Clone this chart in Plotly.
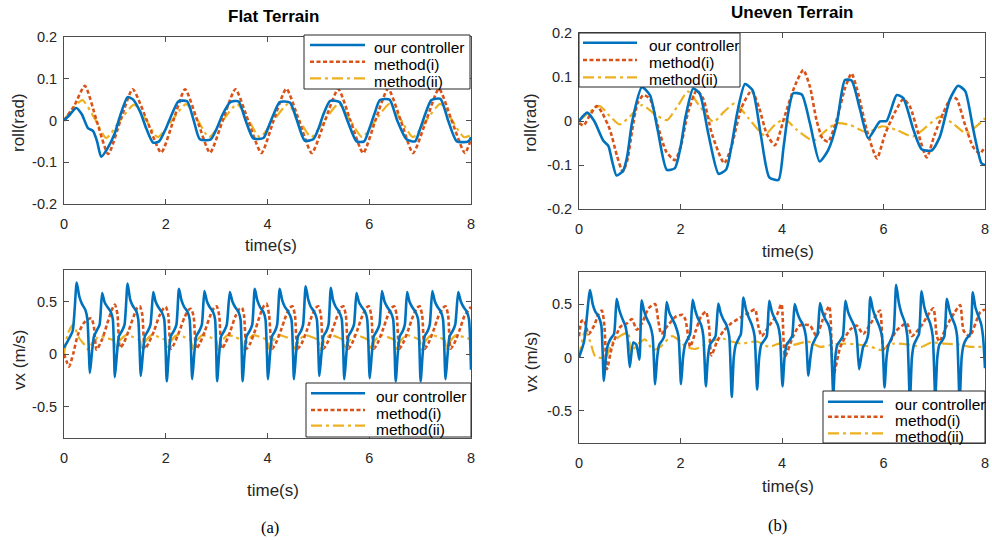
import plotly.graph_objects as go

# ---------------- data ----------------
SERIES_NAMES = ["our controller", "method(i)", "method(ii)"]
TIME_TICKS = [0, 2, 4, 6, 8]
TIME_TICK_TEXT = ["0", "2", "4", "6", "8"]
ROLL_TICKS = [-0.2, -0.1, 0, 0.1, 0.2]
ROLL_TICK_TEXT = ["-0.2", "-0.1", "0", "0.1", "0.2"]
VX_TICKS = [-0.5, 0, 0.5]
VX_TICK_TEXT = ["-0.5", "0", "0.5"]

# Flat terrain, roll
ROLL_FLAT_OURS_T = [0, 0.1, 0.24, 0.35, 0.47, 0.57, 0.65, 0.73, 0.85, 1.0, 1.1, 1.25, 1.36, 1.5, 1.62, 1.75,
                    1.87, 2.0, 2.12, 2.25, 2.42, 2.55, 2.67, 2.88, 3.0, 3.12, 3.27, 3.43, 3.57, 3.72, 3.92,
                    4.02, 4.12, 4.24, 4.44, 4.58, 4.73, 4.9, 5.0, 5.1, 5.23, 5.42, 5.57, 5.75, 5.9, 6.0,
                    6.1, 6.21, 6.4, 6.55, 6.73, 6.9, 7.0, 7.1, 7.22, 7.4, 7.55, 7.72, 7.95, 8.0]
ROLL_FLAT_OURS = [0, 0.012, 0.03, 0.015, -0.018, -0.025, -0.05, -0.087, -0.068, -0.03, 0.01, 0.056, 0.05,
                  0.02, -0.02, -0.053, -0.05, -0.02, 0.015, 0.046, 0.046, 0.0, -0.045, -0.046, -0.02, 0.015,
                  0.044, 0.046, 0.0, -0.043, -0.042, -0.015, 0.015, 0.044, 0.043, 0.0, -0.048, -0.045,
                  -0.02, 0.015, 0.047, 0.044, 0.0, -0.05, -0.05, -0.02, 0.015, 0.049, 0.05, 0.0, -0.045,
                  -0.05, -0.02, 0.015, 0.049, 0.052, 0.0, -0.05, -0.05, -0.04]
ROLL_FLAT_M1_T = [0, 0.2, 0.41, 0.64, 0.87, 1.11, 1.35, 1.63, 1.91, 2.15, 2.38, 2.62, 2.87, 3.12, 3.37, 3.62,
                  3.88, 4.12, 4.37, 4.62, 4.87, 5.13, 5.39, 5.63, 5.88, 6.12, 6.37, 6.62, 6.86, 7.12, 7.37,
                  7.62, 7.88, 8.0]
ROLL_FLAT_M1 = [0, 0.035, 0.083, 0.0, -0.08, 0.0, 0.075, 0.0, -0.077, 0.0, 0.075, 0.0, -0.077, 0.0, 0.075,
                0.0, -0.078, 0.0, 0.076, 0.0, -0.078, 0.0, 0.075, 0.0, -0.078, 0.0, 0.076, 0.0, -0.078,
                0.0, 0.076, 0.0, -0.078, -0.045]
ROLL_FLAT_M2_T = [0, 0.15, 0.36, 0.6, 0.83, 1.1, 1.38, 1.62, 1.84, 2.12, 2.4, 2.63, 2.85, 3.12, 3.4, 3.63,
                  3.85, 4.12, 4.4, 4.63, 4.86, 5.12, 5.4, 5.63, 5.86, 6.12, 6.4, 6.63, 6.86, 7.12, 7.4,
                  7.63, 7.86, 8.0]
ROLL_FLAT_M2 = [0, 0.025, 0.049, 0.005, -0.042, 0.0, 0.038, 0.0, -0.04, 0.0, 0.039, 0.0, -0.04, 0.0, 0.039,
                0.0, -0.04, 0.0, 0.039, 0.0, -0.04, 0.0, 0.04, 0.0, -0.04, 0.0, 0.04, 0.0, -0.04, 0.0,
                0.04, 0.0, -0.04, -0.035]

# Uneven terrain, roll
ROLL_UNEVEN_OURS_T = [0, 0.16, 0.3, 0.48, 0.58, 0.65, 0.74, 0.87, 0.95, 1.05, 1.24, 1.4, 1.55, 1.73, 1.89,
                      2.0, 2.1, 2.25, 2.38, 2.55, 2.75, 2.9, 3.0, 3.12, 3.27, 3.42, 3.58, 3.75, 3.93, 4.03,
                      4.12, 4.22, 4.39, 4.55, 4.74, 4.91, 5.08, 5.24, 5.37, 5.54, 5.7, 5.93, 6.06, 6.26,
                      6.39, 6.59, 6.75, 6.95, 7.11, 7.31, 7.47, 7.61, 7.77, 7.93, 8.0]
ROLL_UNEVEN_OURS = [0, 0.019, 0.0, -0.045, -0.057, -0.09, -0.124, -0.113, -0.08, 0.0, 0.077, 0.058, -0.02,
                    -0.111, -0.107, -0.06, 0.01, 0.074, 0.062, -0.03, -0.12, -0.11, -0.06, 0.02, 0.084,
                    0.07, -0.03, -0.128, -0.134, -0.06, 0.017, 0.063, 0.06, -0.005, -0.092, -0.066,
                    -0.005, 0.093, 0.092, 0.025, -0.039, -0.001, 0.0, 0.059, 0.052, -0.02, -0.064, -0.067,
                    -0.036, 0.05, 0.08, 0.068, -0.02, -0.096, -0.1]
ROLL_UNEVEN_M1_T = [0, 0.09, 0.2, 0.35, 0.45, 0.61, 0.75, 0.86, 0.95, 1.05, 1.15, 1.27, 1.4, 1.55, 1.72,
                    1.89, 2.0, 2.15, 2.32, 2.45, 2.62, 2.86, 3.0, 3.2, 3.4, 3.55, 3.7, 3.86, 4.06, 4.26,
                    4.42, 4.55, 4.68, 4.8, 4.91, 5.08, 5.24, 5.37, 5.5, 5.67, 5.87, 6.03, 6.23, 6.39, 6.52,
                    6.69, 6.85, 7.01, 7.18, 7.34, 7.44, 7.61, 7.77, 7.9, 8.0]
ROLL_UNEVEN_M1 = [-0.005, -0.01, 0.01, 0.034, 0.02, -0.02, -0.08, -0.115, -0.09, -0.02, 0.04, 0.059, 0.05,
                  -0.01, -0.07, -0.089, -0.06, 0.02, 0.07, 0.05, -0.03, -0.096, -0.06, 0.03, 0.069, 0.03,
                  -0.03, -0.055, 0.014, 0.082, 0.116, 0.078, 0.002, -0.04, -0.047, 0.004, 0.074, 0.108,
                  0.063, -0.02, -0.085, -0.03, 0.021, 0.05, 0.033, -0.03, -0.083, -0.03, 0.019, 0.054,
                  0.05, -0.01, -0.06, -0.074, -0.058]
ROLL_UNEVEN_M2_T = [0, 0.2, 0.41, 0.6, 0.8, 1.0, 1.24, 1.5, 1.73, 1.95, 2.15, 2.4, 2.65, 2.85, 3.07, 3.35,
                    3.65, 3.85, 4.05, 4.29, 4.62, 4.88, 5.08, 5.34, 5.68, 5.97, 6.25, 6.58, 6.85, 7.11,
                    7.35, 7.63, 7.85, 8.0]
ROLL_UNEVEN_M2 = [0, 0.02, 0.034, 0.012, -0.008, 0.01, 0.036, 0.015, 0.002, 0.035, 0.067, 0.03, -0.002,
                  0.02, 0.04, 0.005, -0.032, -0.01, 0.005, -0.02, -0.045, -0.02, -0.005, -0.009, -0.026,
                  -0.012, -0.02, -0.035, -0.013, 0.01, -0.004, -0.028, -0.01, 0.006]

# Flat terrain, vx
VX_FLAT_OURS_T = [0.0, 0.07, 0.17, 0.25, 0.30, 0.35, 0.42, 0.46, 0.51,
                  0.55, 0.59, 0.65, 0.70, 0.75, 0.80, 0.85, 0.92, 0.96, 1.00,
                  1.04, 1.08, 1.14, 1.19, 1.25, 1.30, 1.35, 1.42, 1.46, 1.51,
                  1.55, 1.59, 1.65, 1.70, 1.755, 1.80, 1.85, 1.92, 1.97, 2.02,
                  2.06, 2.10, 2.16, 2.21, 2.26, 2.31, 2.36, 2.43, 2.47, 2.52,
                  2.56, 2.60, 2.66, 2.71, 2.76, 2.81, 2.86, 2.93, 2.97, 3.01,
                  3.05, 3.09, 3.15, 3.20, 3.26, 3.31, 3.36, 3.43, 3.47, 3.51,
                  3.55, 3.59, 3.65, 3.70, 3.75, 3.80, 3.85, 3.92, 3.96, 4.01,
                  4.05, 4.09, 4.15, 4.19, 4.24, 4.29, 4.34, 4.41, 4.47, 4.52,
                  4.56, 4.60, 4.66, 4.70, 4.75, 4.80, 4.85, 4.92, 4.97, 5.02,
                  5.06, 5.10, 5.16, 5.20, 5.245, 5.29, 5.34, 5.41, 5.46, 5.51,
                  5.55, 5.59, 5.65, 5.70, 5.75, 5.80, 5.85, 5.92, 5.96, 6.01,
                  6.05, 6.09, 6.15, 6.20, 6.25, 6.30, 6.35, 6.42, 6.47, 6.52,
                  6.56, 6.60, 6.66, 6.70, 6.745, 6.79, 6.84, 6.91, 6.96, 7.01,
                  7.05, 7.09, 7.15, 7.19, 7.24, 7.29, 7.34, 7.41, 7.45, 7.50,
                  7.54, 7.58, 7.64, 7.69, 7.75, 7.80, 7.85, 7.92, 7.96, 8.0]
VX_FLAT_OURS = [0.06, 0.12, 0.22, 0.68, 0.55, 0.48, 0.42, 0.33, -0.18,
                0.02, 0.17, 0.23, 0.28, 0.58, 0.49, 0.45, 0.40, 0.33, -0.22,
                0.0, 0.17, 0.22, 0.28, 0.67, 0.52, 0.46, 0.41, 0.33, -0.21,
                0.0, 0.17, 0.22, 0.28, 0.59, 0.50, 0.45, 0.40, 0.33, -0.26,
                0.0, 0.17, 0.22, 0.28, 0.62, 0.51, 0.45, 0.40, 0.33, -0.24,
                0.0, 0.17, 0.22, 0.28, 0.60, 0.50, 0.45, 0.40, 0.33, -0.26,
                0.0, 0.17, 0.22, 0.28, 0.59, 0.50, 0.45, 0.40, 0.33, -0.26,
                0.0, 0.17, 0.22, 0.28, 0.62, 0.51, 0.45, 0.40, 0.33, -0.24,
                0.0, 0.17, 0.22, 0.28, 0.62, 0.51, 0.45, 0.40, 0.33, -0.24,
                0.0, 0.17, 0.22, 0.28, 0.645, 0.52, 0.45, 0.40, 0.33, -0.21,
                0.0, 0.17, 0.22, 0.28, 0.63, 0.51, 0.45, 0.40, 0.33, -0.24,
                0.0, 0.17, 0.22, 0.28, 0.58, 0.49, 0.45, 0.40, 0.33, -0.23,
                0.0, 0.17, 0.22, 0.28, 0.60, 0.50, 0.45, 0.40, 0.33, -0.26,
                0.0, 0.17, 0.22, 0.28, 0.59, 0.50, 0.45, 0.40, 0.33, -0.26,
                0.0, 0.17, 0.22, 0.28, 0.60, 0.50, 0.45, 0.40, 0.33, -0.24,
                0.0, 0.17, 0.22, 0.28, 0.59, 0.50, 0.45, 0.40, 0.33, -0.15]
VX_FLAT_M1_T = [0.0, 0.05, 0.1, 0.18, 0.27, 0.38, 0.47, 0.54, 0.59, 0.64, 0.75, 0.85, 0.94, 1.0,
                1.05, 1.1, 1.17, 1.27, 1.37, 1.44, 1.49, 1.54, 1.59, 1.66, 1.77, 1.87, 1.95, 2.0,
                2.05, 2.1, 2.17, 2.27, 2.37, 2.45, 2.5, 2.55, 2.6, 2.67, 2.77, 2.87, 2.95, 3.0,
                3.05, 3.1, 3.17, 3.27, 3.37, 3.45, 3.5, 3.54, 3.59, 3.66, 3.76, 3.86, 3.93, 3.98,
                4.03, 4.09, 4.16, 4.26, 4.36, 4.44, 4.49, 4.54, 4.59, 4.67, 4.77, 4.87, 4.95, 5.0,
                5.05, 5.1, 5.17, 5.27, 5.37, 5.44, 5.49, 5.54, 5.59, 5.66, 5.76, 5.86, 5.94, 5.99,
                6.04, 6.09, 6.16, 6.26, 6.36, 6.44, 6.49, 6.54, 6.59, 6.66, 6.76, 6.86, 6.94, 6.99,
                7.04, 7.09, 7.16, 7.26, 7.36, 7.45, 7.5, 7.55, 7.6, 7.67, 7.77, 7.87, 8.0]
VX_FLAT_M1 = [0.0, -0.07, -0.12, 0.0, 0.18, 0.29, 0.33, 0.34, 0.25, 0.04, 0.14, 0.29, 0.42, 0.47,
              0.38, 0.06, 0.1, 0.22, 0.36, 0.44, 0.455, 0.37, 0.05, 0.1, 0.22, 0.36, 0.43, 0.45,
              0.37, 0.05, 0.1, 0.22, 0.35, 0.42, 0.43, 0.35, 0.05, 0.1, 0.22, 0.36, 0.44, 0.455,
              0.37, 0.05, 0.1, 0.22, 0.36, 0.43, 0.44, 0.36, 0.05, 0.1, 0.23, 0.38, 0.46, 0.48,
              0.38, 0.05, 0.1, 0.22, 0.36, 0.44, 0.455, 0.37, 0.05, 0.1, 0.22, 0.36, 0.44, 0.455,
              0.37, 0.05, 0.1, 0.22, 0.36, 0.44, 0.455, 0.37, 0.05, 0.1, 0.22, 0.36, 0.44, 0.455,
              0.37, 0.05, 0.1, 0.22, 0.36, 0.44, 0.455, 0.37, 0.05, 0.1, 0.22, 0.36, 0.44, 0.455,
              0.37, 0.05, 0.1, 0.22, 0.36, 0.44, 0.455, 0.37, 0.05, 0.1, 0.22, 0.36, 0.45]
VX_FLAT_M2_T = [0.0, 0.08, 0.18, 0.3, 0.4, 0.48, 0.55, 0.7, 0.85, 0.97, 1.02, 1.08, 1.22, 1.37, 1.49,
                1.53, 1.6, 1.72, 1.87, 1.99, 2.03, 2.1, 2.22, 2.37, 2.49, 2.53, 2.6, 2.72, 2.87, 2.99,
                3.03, 3.1, 3.22, 3.37, 3.49, 3.53, 3.6, 3.72, 3.87, 3.99, 4.03, 4.1, 4.22, 4.37, 4.5,
                4.54, 4.61, 4.73, 4.88, 5.0, 5.04, 5.11, 5.23, 5.38, 5.49, 5.53, 5.6, 5.72, 5.87,
                5.99, 6.03, 6.1, 6.22, 6.37, 6.5, 6.54, 6.61, 6.73, 6.88, 6.99, 7.03, 7.1, 7.22, 7.37,
                7.48, 7.52, 7.59, 7.71, 7.86, 8.0]
VX_FLAT_M2 = [0.0, 0.2, 0.28, 0.15, 0.09, 0.04, 0.1, 0.17, 0.15, 0.13, 0.05, 0.12, 0.18, 0.16, 0.13,
              0.03, 0.12, 0.18, 0.16, 0.13, 0.04, 0.12, 0.18, 0.16, 0.13, 0.04, 0.12, 0.18, 0.16, 0.13,
              0.04, 0.12, 0.18, 0.16, 0.13, 0.04, 0.12, 0.18, 0.16, 0.13, 0.05, 0.12, 0.18, 0.16, 0.13,
              0.05, 0.12, 0.18, 0.16, 0.13, 0.04, 0.12, 0.18, 0.16, 0.13, 0.04, 0.12, 0.18, 0.16,
              0.13, 0.04, 0.12, 0.18, 0.16, 0.13, 0.04, 0.12, 0.18, 0.16, 0.13, 0.04, 0.12, 0.18,
              0.16, 0.13, 0.04, 0.12, 0.18, 0.16, 0.14]

# Uneven terrain, vx
VX_UNEVEN_OURS_T = [0.0, 0.1, 0.217, 0.27, 0.32, 0.39, 0.44, 0.49,
                    0.53, 0.57, 0.63, 0.69, 0.742, 0.79, 0.84, 0.91, 0.95, 1.0,
                    1.07, 1.13, 1.19, 1.235, 1.28, 1.33, 1.4, 1.45, 1.5,
                    1.54, 1.58, 1.64, 1.68, 1.728, 1.78, 1.83, 1.9, 1.96, 2.01,
                    2.05, 2.09, 2.15, 2.19, 2.24, 2.29, 2.34, 2.41, 2.45, 2.5,
                    2.54, 2.58, 2.64, 2.69, 2.745, 2.79, 2.84, 2.91, 2.96, 3.01,
                    3.05, 3.09, 3.15, 3.19, 3.24, 3.29, 3.34, 3.41, 3.46, 3.51,
                    3.55, 3.59, 3.65, 3.7, 3.75, 3.8, 3.85, 3.92, 3.96, 4.01,
                    4.05, 4.09, 4.15, 4.2, 4.25, 4.3, 4.35, 4.42, 4.47, 4.52,
                    4.56, 4.6, 4.66, 4.7, 4.75, 4.8, 4.85, 4.92, 4.96, 5.01,
                    5.05, 5.09, 5.15, 5.2, 5.25, 5.3, 5.35, 5.42, 5.47, 5.52,
                    5.56, 5.6, 5.66, 5.7, 5.74, 5.79, 5.84, 5.91, 5.97, 6.02,
                    6.06, 6.1, 6.16, 6.2, 6.25, 6.3, 6.35, 6.42, 6.47, 6.52,
                    6.56, 6.6, 6.66, 6.7, 6.75, 6.8, 6.85, 6.92, 6.97, 7.02,
                    7.06, 7.1, 7.16, 7.2, 7.25, 7.3, 7.35, 7.41, 7.45, 7.5,
                    7.54, 7.58, 7.64, 7.71, 7.76, 7.81, 7.86, 7.92, 7.96, 8.0]
VX_UNEVEN_OURS = [0.0, 0.15, 0.63, 0.5, 0.43, 0.38, 0.3, -0.22,
                  0.0, 0.12, 0.18, 0.22, 0.55, 0.45, 0.38, 0.3, 0.2, -0.09,
                  0.14, 0.12, -0.02, 0.535, 0.44, 0.37, 0.3, 0.2, -0.25,
                  0.0, 0.12, 0.16, 0.2, 0.52, 0.42, 0.37, 0.3, 0.2, -0.25,
                  0.0, 0.12, 0.18, 0.22, 0.54, 0.44, 0.37, 0.3, 0.2, -0.27,
                  0.0, 0.12, 0.16, 0.2, 0.505, 0.42, 0.36, 0.3, 0.2, -0.37,
                  0.0, 0.12, 0.18, 0.22, 0.56, 0.45, 0.38, 0.3, 0.2, -0.3,
                  0.0, 0.12, 0.16, 0.2, 0.53, 0.43, 0.37, 0.3, 0.2, -0.27,
                  0.0, 0.12, 0.16, 0.2, 0.5, 0.42, 0.36, 0.3, 0.2, -0.17,
                  0.0, 0.12, 0.18, 0.22, 0.51, 0.42, 0.36, 0.3, 0.2, -0.35,
                  0.0, 0.12, 0.16, 0.2, 0.53, 0.43, 0.37, 0.3, 0.2, -0.11,
                  0.0, 0.1, 0.15, 0.22, 0.565, 0.45, 0.38, 0.3, 0.2, -0.28,
                  0.0, 0.12, 0.18, 0.24, 0.68, 0.52, 0.42, 0.33, 0.2, -0.42,
                  0.0, 0.12, 0.18, 0.22, 0.62, 0.48, 0.4, 0.32, 0.2, -0.38,
                  0.0, 0.12, 0.16, 0.2, 0.55, 0.44, 0.37, 0.3, 0.2, -0.42,
                  0.0, 0.12, 0.18, 0.22, 0.61, 0.47, 0.4, 0.32, 0.2, -0.1]
VX_UNEVEN_M1_T = [0, 0.05, 0.1, 0.19, 0.3, 0.38, 0.45, 0.5, 0.55, 0.65, 0.82, 0.95, 1.04, 1.14, 1.25,
                  1.37, 1.5, 1.56, 1.62, 1.75, 1.9, 2.04, 2.1, 2.19, 2.3, 2.4, 2.5, 2.56, 2.61, 2.72,
                  2.85, 3.0, 3.2, 3.35, 3.47, 3.53, 3.6, 3.75, 3.9, 3.99, 4.06, 4.22, 4.35, 4.55, 4.68,
                  4.8, 4.93, 5.01, 5.15, 5.34, 5.47, 5.6, 5.75, 5.93, 6.0, 6.1, 6.25, 6.46, 6.56, 6.75,
                  6.98, 7.05, 7.1, 7.25, 7.4, 7.51, 7.58, 7.7, 7.9, 8.0]
VX_UNEVEN_M1 = [0.2, 0.34, 0.35, 0.22, 0.3, 0.4, 0.44, 0.3, -0.11, 0.1, 0.29, 0.32, 0.36, 0.26, 0.33,
                0.46, 0.5, 0.35, 0.22, 0.3, 0.38, 0.4, 0.35, 0.1, 0.25, 0.38, 0.43, 0.3, 0.02, 0.15,
                0.25, 0.32, 0.38, 0.42, 0.45, 0.3, 0.2, 0.3, 0.4, 0.5, 0.01, 0.2, 0.3, 0.3, 0.2, 0.35,
                0.48, -0.17, 0.1, 0.26, 0.3, 0.22, 0.32, 0.44, 0.08, 0.12, 0.25, 0.32, 0.2, 0.3, 0.46,
                0.2, 0.15, 0.3, 0.42, 0.49, 0.25, 0.2, 0.42, 0.45]
VX_UNEVEN_M2_T = [0, 0.12, 0.22, 0.32, 0.52, 0.66, 0.84, 0.97, 1.02, 1.15, 1.3, 1.46, 1.6, 1.83, 2.0,
                  2.1, 2.3, 2.55, 2.81, 3.0, 3.2, 3.5, 3.75, 4.0, 4.25, 4.5, 4.75, 5.0, 5.25, 5.5, 5.75,
                  5.95, 6.2, 6.5, 6.75, 6.94, 7.2, 7.5, 7.7, 8.0]
VX_UNEVEN_M2 = [0.0, 0.25, 0.15, 0.01, 0.0, 0.14, 0.21, 0.23, 0.05, 0.12, 0.17, 0.07, 0.1, 0.2, 0.15,
                0.1, 0.08, 0.14, 0.18, 0.15, 0.13, 0.15, 0.1, 0.14, 0.12, 0.15, 0.1, 0.12, 0.13, 0.12,
                0.1, 0.07, 0.13, 0.12, 0.1, 0.14, 0.13, 0.12, 0.1, 0.1]

# ---------------- styling ----------------
COLORS = ["#0072BD", "#D95319", "#EDB120"]
DASHES = ["solid", "4px,2.5px", "11px,4px,3px,4px"]
WIDTHS = [2.6, 2.6, 2.2]
AX_COLOR = "#4d4d4d"
FONT = "Liberation Sans, Arial, sans-serif"

W, H = 992, 540
def px(x):
    return x / W
def py(y):
    return 1 - y / H

fig = go.Figure()

panels = [
    ("x", "y", [(ROLL_FLAT_OURS_T, ROLL_FLAT_OURS), (ROLL_FLAT_M1_T, ROLL_FLAT_M1), (ROLL_FLAT_M2_T, ROLL_FLAT_M2)]),
    ("x2", "y2", [(ROLL_UNEVEN_OURS_T, ROLL_UNEVEN_OURS), (ROLL_UNEVEN_M1_T, ROLL_UNEVEN_M1), (ROLL_UNEVEN_M2_T, ROLL_UNEVEN_M2)]),
    ("x3", "y3", [(VX_FLAT_OURS_T, VX_FLAT_OURS), (VX_FLAT_M1_T, VX_FLAT_M1), (VX_FLAT_M2_T, VX_FLAT_M2)]),
    ("x4", "y4", [(VX_UNEVEN_OURS_T, VX_UNEVEN_OURS), (VX_UNEVEN_M1_T, VX_UNEVEN_M1), (VX_UNEVEN_M2_T, VX_UNEVEN_M2)]),
]
for xa, ya, series in panels:
    for i in (2, 1, 0):
        t, v = series[i]
        fig.add_trace(go.Scatter(
            x=t, y=v, mode="lines", name=SERIES_NAMES[i], xaxis=xa, yaxis=ya, showlegend=False,
            line=dict(color=COLORS[i], width=WIDTHS[i], dash=DASHES[i], shape="spline", smoothing=0.6),
            hoverinfo="skip"))

common = dict(showline=True, linecolor=AX_COLOR, linewidth=1, mirror="ticks", ticks="inside",
              ticklen=5, tickcolor=AX_COLOR, showgrid=False, zeroline=False, automargin=False,
              tickfont=dict(family=FONT, size=14.5, color="#262626"))
xcommon = dict(common, range=[0, 8], tickvals=TIME_TICKS, ticktext=TIME_TICK_TEXT, ticklabelstandoff=7)

layout_axes = dict(
    xaxis=dict(xcommon, domain=[px(64), px(471)], anchor="y"),
    yaxis=dict(common, domain=[py(204), py(37)], anchor="x", range=[-0.2, 0.2],
               tickvals=ROLL_TICKS, ticktext=ROLL_TICK_TEXT, ticklabelstandoff=3),
    xaxis2=dict(xcommon, domain=[px(579), px(985)], anchor="y2"),
    yaxis2=dict(common, domain=[py(209), py(33)], anchor="x2", range=[-0.2, 0.2],
                tickvals=ROLL_TICKS, ticktext=ROLL_TICK_TEXT, ticklabelstandoff=3),
    xaxis3=dict(xcommon, domain=[px(64), px(471)], anchor="y3"),
    yaxis3=dict(common, domain=[py(438), py(270)], anchor="x3", range=[-0.8, 0.8],
                tickvals=VX_TICKS, ticktext=VX_TICK_TEXT, ticklabelstandoff=3),
    xaxis4=dict(xcommon, domain=[px(579), px(985)], anchor="y4"),
    yaxis4=dict(common, domain=[py(443), py(272)], anchor="x4", range=[-0.8, 0.8],
                tickvals=VX_TICKS, ticktext=VX_TICK_TEXT, ticklabelstandoff=3),
)

ann = []
shapes = []
def text(x, y, s, size=17, bold=False, angle=0, family=FONT, color="#262626", xanchor="center"):
    ann.append(dict(x=px(x), y=py(y), xref="paper", yref="paper", showarrow=False,
                    text=("<b>%s</b>" % s) if bold else s, textangle=angle,
                    font=dict(family=family, size=size, color=color),
                    xanchor=xanchor, yanchor="middle"))

def legend_box(box, line_x, line_ys, text_x, text_ys):
    x0, y0, x1, y1 = box
    shapes.append(dict(type="rect", xref="paper", yref="paper", x0=px(x0), x1=px(x1),
                       y0=py(y1), y1=py(y0), line=dict(color="#262626", width=1),
                       fillcolor="white", layer="above"))
    for i in range(3):
        shapes.append(dict(type="line", xref="paper", yref="paper",
                           x0=px(line_x[0]), x1=px(line_x[1]), y0=py(line_ys[i]), y1=py(line_ys[i]),
                           line=dict(color=COLORS[i], width=WIDTHS[i], dash=DASHES[i]), layer="above"))
        text(text_x, text_ys[i], SERIES_NAMES[i], size=15.5, color="#000000", xanchor="left")

legend_box((304, 35, 470, 89), (310, 365), [45, 61.7, 78.3], 372, [47.5, 64.5, 81])
legend_box((579, 33, 740, 87), (583, 637), [42.7, 60, 77.3], 646.5, [45.5, 62.5, 79.5])
legend_box((306, 383, 471, 437), (311, 365), [393.3, 410, 425.7], 373.5, [396, 413, 429])
legend_box((823, 391, 985, 443), (828, 883), [401.7, 416.7, 433.3], 893, [404, 420.5, 436])

text(273, 17, "Flat Terrain", size=17, bold=True, color="#000000")
text(792, 13, "Uneven Terrain", size=17, bold=True, color="#000000")
text(271, 246, "time(s)")
text(788, 251, "time(s)")
text(273, 490, "time(s)")
text(788, 486, "time(s)")
text(19, 123, "roll(rad)", angle=-90)
text(531, 123, "roll(rad)", angle=-90)
text(19, 360, "vx (m/s)", angle=-90)
text(531, 362, "vx (m/s)", angle=-90)
text(270, 527, "(a)", size=16.5, family="Liberation Serif, Times New Roman, serif", color="#000000")
text(777, 525, "(b)", size=16.5, family="Liberation Serif, Times New Roman, serif", color="#000000")

fig.update_layout(
    width=W, height=H, margin=dict(l=0, r=0, t=0, b=0, autoexpand=False),
    paper_bgcolor="white", plot_bgcolor="white", showlegend=False,
    annotations=ann, shapes=shapes, hovermode=False, **layout_axes,
)

fig.write_html("out.html", config={"displayModeBar": False, "staticPlot": True},
               post_script="document.body.style.margin='0';document.body.style.overflow='hidden';")
